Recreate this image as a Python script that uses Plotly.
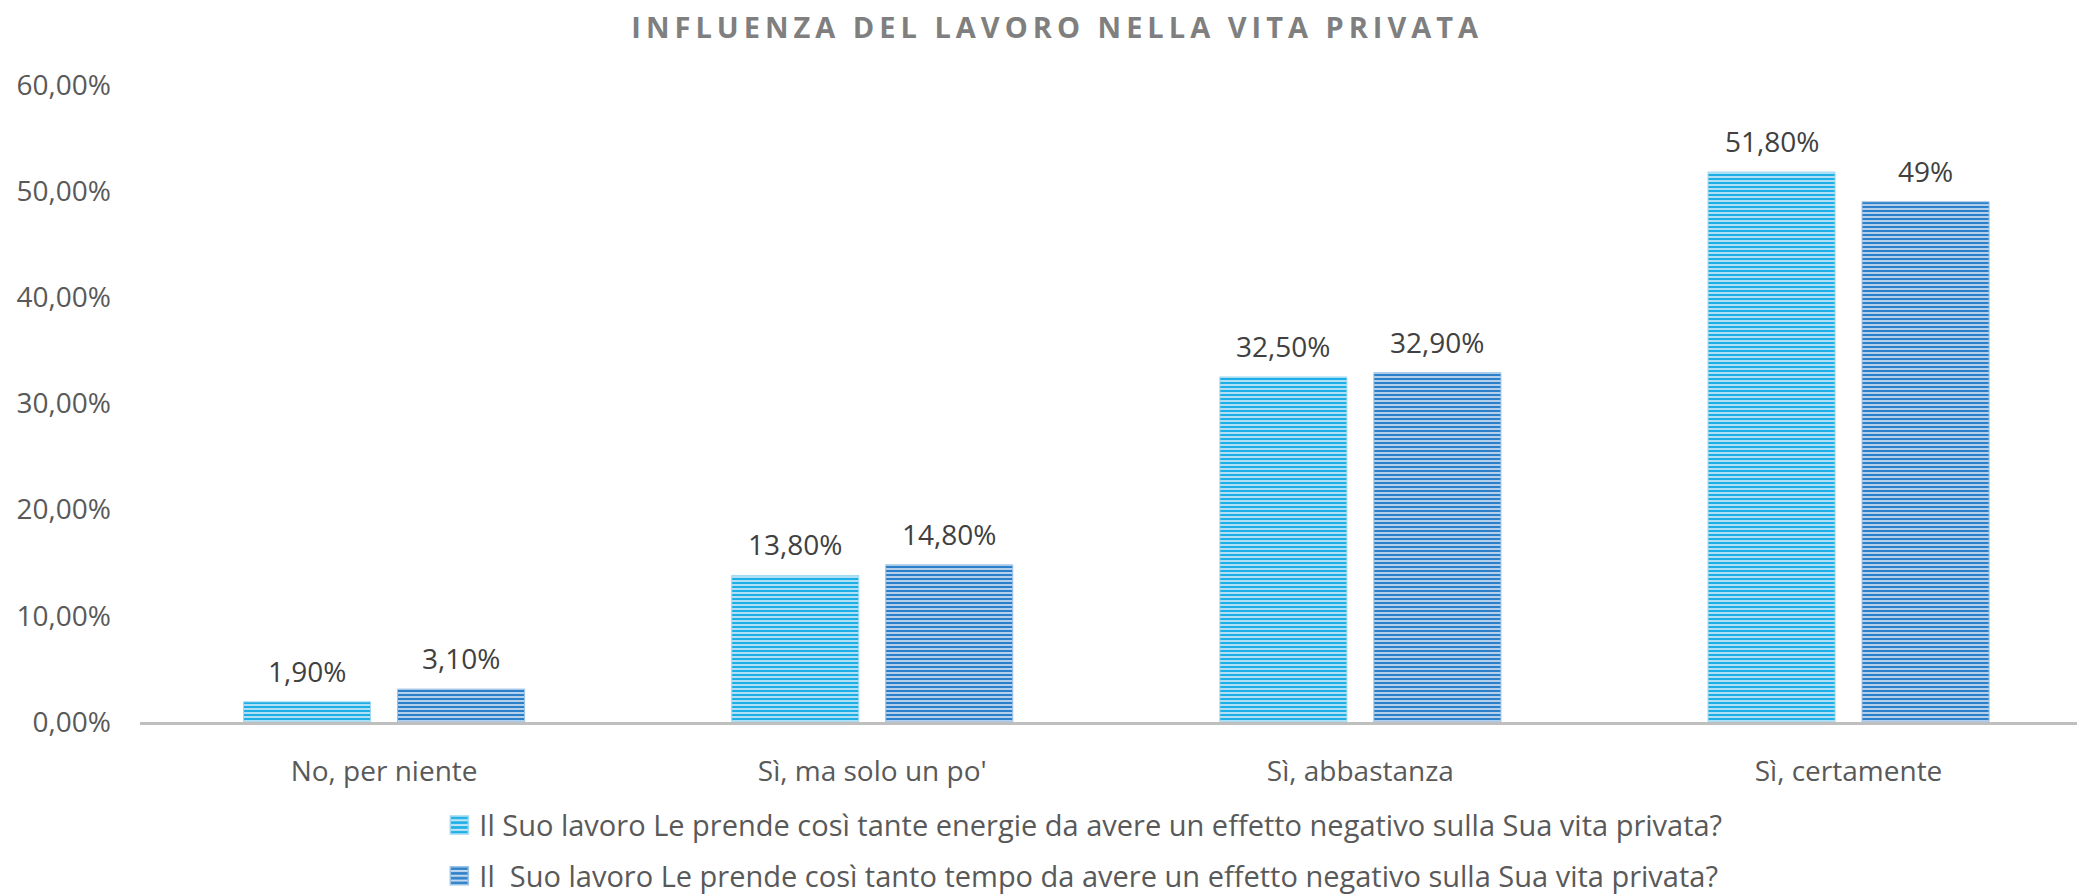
import plotly.graph_objects as go

# Survey answers (x categories)
categories = ["No, per niente", "Sì, ma solo un po'", "Sì, abbastanza", "Sì, certamente"]

# Series names
series_energie = "Il Suo lavoro Le prende così tante energie da avere un effetto negativo sulla Sua vita privata?"
series_tempo = "Il\u00a0 Suo lavoro Le prende così tanto tempo da avere un effetto negativo sulla Sua vita privata?"

# Percent of respondents
values_energie = [1.9, 13.8, 32.5, 51.8]
values_tempo = [3.1, 14.8, 32.9, 49.0]

# Data labels as printed on the chart
labels_energie = ["1,90%", "13,80%", "32,50%", "51,80%"]
labels_tempo = ["3,10%", "14,80%", "32,90%", "49%"]

FONT = "Open Sans, Segoe UI, DejaVu Sans, sans-serif"

fig = go.Figure()

fig.add_trace(go.Bar(
    x=categories, y=values_energie, name=series_energie,
    legendgroup="a",
    marker=dict(
        color="#1eaee6",
        line=dict(color="#9fd9f2", width=1),
        pattern=dict(shape="-", size=4, solidity=0.55,
                     fgcolor="#1eaee6", bgcolor="#bfe6f7", fillmode="replace"),
    ),
))
fig.add_trace(go.Bar(
    x=categories, y=values_tempo, name=series_tempo,
    legendgroup="b",
    marker=dict(
        color="#2c80c9",
        line=dict(color="#9cc2e6", width=1),
        pattern=dict(shape="-", size=4, solidity=0.55,
                     fgcolor="#2c80c9", bgcolor="#c2d8ef", fillmode="replace"),
    ),
))

# Value labels above each bar (offset left/right to sit over its bar in the group)
for vals, labs, shift in ((values_energie, labels_energie, -77), (values_tempo, labels_tempo, 77)):
    for c, v, t in zip(categories, vals, labs):
        fig.add_annotation(
            x=c, y=v, text=t, showarrow=False, xshift=shift, yshift=10,
            yanchor="bottom", font=dict(family=FONT, size=28, color="#404040"),
        )

fig.update_layout(
    width=2077, height=895,
    paper_bgcolor="white", plot_bgcolor="white",
    margin=dict(l=140, r=0, t=85, b=173, autoexpand=False),
    separators=",.",
    barmode="group", bargap=0.369, bargroupgap=0.175,
    title=dict(
        text="<b>INFLUENZA DEL LAVORO NELLA VITA PRIVATA</b>",
        x=0.509, xanchor="center", xref="container",
        y=1 - 28 / 895, yanchor="middle", yref="container",
        font=dict(family=FONT, size=29, color="#7f7f7f"),
    ),
    font=dict(family=FONT, size=28, color="#595959"),
    showlegend=True,
    legend=dict(
        orientation="v", x=0.487, xanchor="center", y=-0.122, yanchor="top",
        font=dict(family=FONT, size=29, color="#595959"),
        traceorder="grouped", tracegroupgap=10,
        bgcolor="rgba(0,0,0,0)",
    ),
    xaxis=dict(
        range=[-0.5, 3.468], showgrid=False, zeroline=False,
        showline=True, linecolor="#bfbfbf", linewidth=3,
        ticks="", ticklabelstandoff=22,
        tickfont=dict(family=FONT, size=28, color="#595959"),
    ),
    yaxis=dict(
        range=[0, 60], dtick=10, tickformat=".2f", ticksuffix="%",
        showgrid=False, zeroline=False, showline=False,
        ticks="", ticklabelstandoff=28,
        tickfont=dict(family=FONT, size=28, color="#595959"),
    ),
)

# Spaced-out lettering for the title, larger legend swatches
post = """
document.querySelectorAll('.gtitle').forEach(function(t){
  t.style.letterSpacing = '5px';
});
document.querySelectorAll('.legend .legendpoints path').forEach(function(p){
  var tr = p.getAttribute('transform') || '';
  p.setAttribute('transform', tr + ' scale(1.5)');
});
"""

fig.write_html("out.html", post_script=post)
